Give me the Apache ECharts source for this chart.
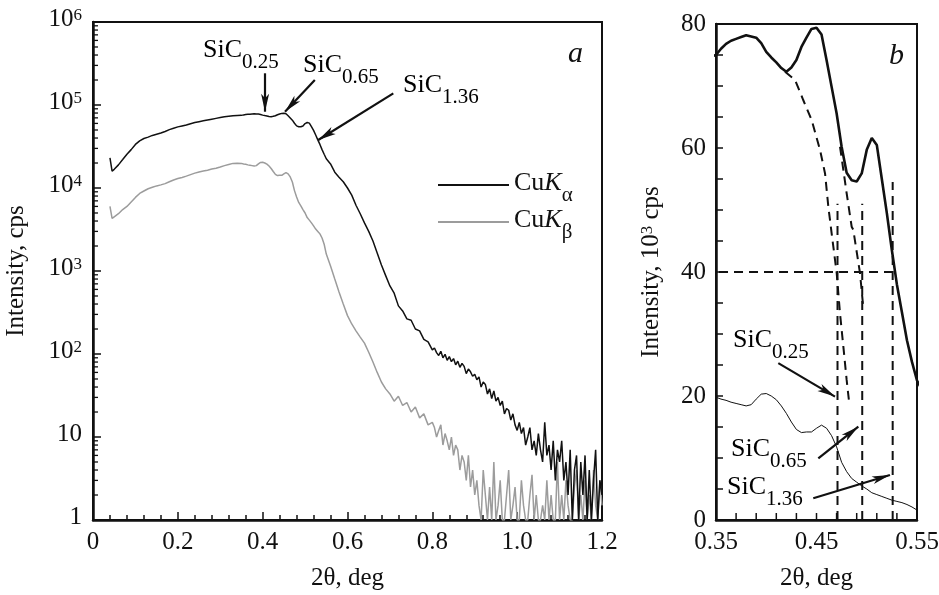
<!DOCTYPE html>
<html><head><meta charset="utf-8">
<script src="https://cdn.jsdelivr.net/npm/echarts@6/dist/echarts.min.js"></script>
<style>html,body{margin:0;padding:0;background:#fff}#c{width:939px;height:595px}</style>
</head><body><div id="c"></div>
<script>
// 2θ (deg) sampling
const xDeg = [
 0.04,0.045,0.05,0.06,0.07,0.08,0.09,0.10,0.11,0.12,0.13,0.14,0.15,0.16,0.17,0.18,0.19,0.20,0.21,0.22,0.23,0.24,0.25,0.26,0.27,0.28,0.29,0.30,0.31,0.32,0.33,0.34,
 0.35,0.355,0.36,0.365,0.37,0.375,0.38,0.385,0.39,0.395,0.40,0.405,0.41,0.415,0.42,0.425,0.43,0.435,0.44,0.445,0.45,0.455,0.46,0.465,0.47,0.475,0.48,0.485,0.49,0.495,0.50,0.505,0.51,0.515,0.52,0.525,0.53,0.535,0.54,0.545,0.55,
 0.56,0.57,0.58,0.59,0.60,0.61,0.62,0.63,0.64,0.65,0.66,0.67,0.68,0.69,0.70,0.71,0.72,0.73,0.74,0.75,0.76,0.77,0.78,0.79,0.80,
 0.805,0.81,0.815,0.82,0.825,0.83,0.835,0.84,0.845,0.85,
 0.855,0.86,0.865,0.87,0.875,0.88,0.885,0.89,0.895,0.90,
 0.905,0.91,0.915,0.92,0.925,0.93,0.935,0.94,0.945,0.95,
 0.955,0.96,0.965,0.97,0.975,0.98,0.985,0.99,0.995,1.00,
 1.005,1.01,1.015,1.02,1.025,1.03,1.035,1.04,1.045,1.05,
 1.055,1.06,1.065,1.07,1.075,1.08,1.085,1.09,1.095,1.10,
 1.105,1.11,1.115,1.12,1.125,1.13,1.135,1.14,1.145,1.15,
 1.155,1.16,1.165,1.17,1.175,1.18,1.185,1.19,1.195,1.20
];
// CuKα intensity, cps
const kAlpha = [
 23000,16000,16800,19000,22000,25500,29000,33500,37000,39500,41000,43000,44500,46000,48000,50500,52500,54500,56000,57500,59500,61500,63000,64500,66000,67500,69000,70500,72000,73000,74000,74500,
 75000,76000,76800,77300,77600,77900,78200,78000,77800,76900,75500,74600,73800,72900,72300,73000,74200,76300,77800,79200,79400,78300,74200,69900,65600,60200,56000,54800,54600,55900,59700,61600,60500,55000,49500,43500,38000,33500,29000,25500,22500,
 19500,15500,13500,11900,10000,8200,6200,4900,3800,3000,2300,1650,1180,880,660,540,380,330,265,255,200,190,150,140,112,
 118,104,96,108,90,99,84,93,81,88,
 74,82,69,77,71,58,66,61,54,57,
 49,53,40,46,43,33,38,29,36,27,
 30,24,27,19,22,21,16,19,14,12,
 15,11,13,8,10,13,7,9,6,11,
 7,5,15,6,8,4,9,3,7,5,
 9,3,5,2,7,1,4,6,1,5,
 2,6,1,4,1,3,7,1,3,2
];
// CuKβ intensity, cps
const kBeta = [
 6000,4300,4500,4900,5500,6000,6800,7700,8600,9200,9800,10200,10600,10900,11300,11900,12500,13000,13400,13900,14500,15100,15600,16000,16400,16900,17300,17900,18600,19200,19800,19900,
 19800,19500,19300,19000,18800,18600,18400,18600,19500,20300,20400,20000,19400,18400,17200,15800,14600,14100,14200,14200,14800,15300,14800,13600,11800,9300,7800,6700,6100,5500,5000,4400,4100,3800,3500,3200,3000,2800,2500,2100,1600,
 1150,800,560,400,290,230,190,160,135,105,80,60,46,38,33,27,31,24,26,20,23,17,19,14,15,
 13,10,12,14,8,11,9,7,10,6,
 8,7,4,6,5,3,6,2.5,4,2,
 3,1.5,1,4,2,1,2.5,1,5,1,
 1.5,3,1,1,2,4,1,1.5,2.5,1,
 1,3,1.5,1,1,2,3.5,1,2,1,
 1,1.5,1,3,1,2,1,1,5,1,
 2,1,3,1.5,1,1,2.5,4,1,2,
 1,3,1,2,1,4,1.5,1,3,1.5
];
// panel b decomposition curves (10^3 cps)
const curveAX = [0.4187,0.4286,0.4369,0.4452,0.4535,0.4585,0.4618,0.4651,0.4701,0.4734,0.4767,0.4800,0.4826];
const curveAY = [72.3,71.0,67.7,64.5,59.7,55.9,50.5,46.2,39.8,33.3,28.0,22.6,18.8];
const curveBX = [0.4734,0.4751,0.4800,0.4850,0.4866,0.4933,0.4966];
const curveBY = [60.2,58.3,52.7,47.3,46.8,39.8,34.2];
const peakLineX = [0.4709,0.4955,0.5258];
const peakLineTop = [51,51,54.5];
const levelY = 40;
const levelX = [0.353,0.531];
// tick values
const logMinorTicks = [2,3,4,5,6,7,8,9,20,30,40,50,60,70,80,90,200,300,400,500,600,700,800,900,2000,3000,4000,5000,6000,7000,8000,9000,20000,30000,40000,50000,60000,70000,80000,90000,200000,300000,400000,500000,600000,700000,800000,900000];
const bTicksX = [0.35,0.37,0.39,0.41,0.43,0.45,0.47,0.49,0.51,0.53,0.55];
const bLabelsX = [0.35,0.45,0.55];
const bLabelsY = [0,20,40,60,80];
// annotation arrows [from, to] in data coordinates
const arrowsA = [
 [[0.406,241000],[0.4055,83000]],
 [[0.523,200000],[0.4526,83000]],
 [[0.708,138000],[0.531,37900]]
];
const arrowsB = [
 [[0.412,25.3],[0.4684,19.9]],
 [[0.4518,9.95],[0.4916,15.05]],
 [[0.4468,3.5],[0.5231,7.26]]
];

const FF = 'Liberation Serif';
const C = '#111';
const pairs = (xs, ys, k) => xs.map((x, i) => [x, ys[i] / k]);
const chart = echarts.init(document.getElementById('c'), null, {renderer: 'canvas'});

const dashed = {color: C, width: 2, type: [9, 6]};
const lineSeries = (name, xi, yi, data, ls, z) => ({
  name, type: 'line', xAxisIndex: xi, yAxisIndex: yi, data, symbol: 'none', showSymbol: false,
  lineStyle: ls, itemStyle: {color: ls.color}, z: z || 2, silent: true, animation: false
});
const arrowMark = (arr) => ({
  silent: true, animation: false, symbol: ['none', 'arrow'], symbolSize: [6, 18],
  label: {show: false}, lineStyle: {color: C, width: 2.2, type: 'solid'},
  emphasis: {disabled: true},
  data: arr.map(a => [{coord: a[0]}, {coord: a[1]}])
});

const series = [];
const sA = lineSeries('CuKα', 0, 0, pairs(xDeg, kAlpha, 1), {color: C, width: 1.5}, 4);
sA.markLine = arrowMark(arrowsA);
series.push(sA);
series.push(lineSeries('CuKβ', 0, 0, pairs(xDeg, kBeta, 1), {color: '#9c9c9c', width: 1.5}, 3));
const sB = lineSeries('CuKα b', 1, 1, pairs(xDeg, kAlpha, 1000), {color: C, width: 2.6}, 4);
sB.markLine = arrowMark(arrowsB);
series.push(sB);
series.push(lineSeries('CuKβ b', 1, 1, pairs(xDeg, kBeta, 1000), {color: C, width: 1}, 3));
series.push(lineSeries('fit A', 1, 1, pairs(curveAX, curveAY, 1), dashed));
series.push(lineSeries('fit B', 1, 1, pairs(curveBX, curveBY, 1), dashed));
peakLineX.forEach((x, i) => series.push(lineSeries('peak ' + i, 1, 1, [[x, 0], [x, peakLineTop[i]]], dashed)));
series.push(lineSeries('level', 1, 1, [[levelX[0], levelY], [levelX[1], levelY]], dashed));

const labelRich = {
  b: {fontFamily: FF, fontSize: 25, color: C, lineHeight: 30, verticalAlign: 'top'},
  p: {fontFamily: FF, fontSize: 17, color: C, lineHeight: 17, verticalAlign: 'top'}
};
const subRich = {
  m: {fontFamily: FF, fontSize: 26, color: C, lineHeight: 30, verticalAlign: 'top'},
  k: {fontFamily: FF, fontSize: 26, color: C, lineHeight: 30, verticalAlign: 'top', fontStyle: 'italic'},
  s: {fontFamily: FF, fontSize: 21, color: C, lineHeight: 21, verticalAlign: 'top', padding: [15, 0, 0, 0]}
};

const baseGraphics = [
  {type: 'text', x: 203, y: 37, silent: true, style: {text: '{m|SiC}{s|0.25}', rich: subRich}},
  {type: 'text', x: 303, y: 52, silent: true, style: {text: '{m|SiC}{s|0.65}', rich: subRich}},
  {type: 'text', x: 403, y: 72, silent: true, style: {text: '{m|SiC}{s|1.36}', rich: subRich}},
  {type: 'text', x: 733, y: 327, silent: true, style: {text: '{m|SiC}{s|0.25}', rich: subRich}},
  {type: 'text', x: 731, y: 436, silent: true, style: {text: '{m|SiC}{s|0.65}', rich: subRich}},
  {type: 'text', x: 727, y: 474, silent: true, style: {text: '{m|SiC}{s|1.36}', rich: subRich}},
  {type: 'text', x: 568, y: 39, silent: true, style: {text: 'a', font: 'italic 30px "Liberation Serif"', fill: C}},
  {type: 'text', x: 889, y: 41, silent: true, style: {text: 'b', font: 'italic 30px "Liberation Serif"', fill: C}}
];

const option = {
  animation: false,
  backgroundColor: '#fff',
  textStyle: {fontFamily: FF},
  grid: [
    {left: 93, top: 22, width: 509, height: 498, show: true, borderColor: C, borderWidth: 2, backgroundColor: 'transparent', outerBoundsMode: 'none', containLabel: false},
    {left: 716, top: 24, width: 201, height: 496, show: true, borderColor: C, borderWidth: 2, backgroundColor: 'transparent', outerBoundsMode: 'none', containLabel: false}
  ],
  legend: {
    data: ['CuKα', 'CuKβ'], orient: 'vertical', left: 433, top: 165, itemWidth: 71, itemHeight: 2, itemGap: 1,
    icon: 'rect', selectedMode: false,
    formatter: n => n === 'CuKα' ? '{m|Cu}{k|K}{s|α}' : '{m|Cu}{k|K}{s|β}',
    textStyle: {fontFamily: FF, rich: subRich}
  },
  xAxis: [
    {type: 'value', gridIndex: 0, min: 0, max: 1.2, interval: 0.2,
     name: '2θ, deg', nameLocation: 'middle', nameGap: 46,
     nameTextStyle: {fontFamily: FF, fontSize: 25, color: C},
     axisLine: {lineStyle: {color: C, width: 2.5}},
     axisTick: {inside: true, length: 8, lineStyle: {color: C, width: 1.5}},
     minorTick: {show: true, splitNumber: 5, length: 5, lineStyle: {color: C, width: 1.5}},
     axisLabel: {fontFamily: FF, fontSize: 25, color: C, margin: 10, formatter: v => v === 0 ? '0' : v.toFixed(1)},
     splitLine: {show: false}, minorSplitLine: {show: false}},
    {type: 'value', gridIndex: 1, min: 0.35, max: 0.55, position: 'bottom',
     name: '2θ, deg', nameLocation: 'middle', nameGap: 46,
     nameTextStyle: {fontFamily: FF, fontSize: 25, color: C},
     axisLine: {lineStyle: {color: C, width: 2.5}},
     axisTick: {show: false},
     axisLabel: {fontFamily: FF, fontSize: 25, color: C, margin: 10, customValues: bLabelsX, formatter: v => v.toFixed(2)},
     splitLine: {show: false}}
  ],
  yAxis: [
    {type: 'log', logBase: 10, gridIndex: 0, min: 1, max: 1000000, splitNumber: 6, position: 'left',
     name: 'Intensity, cps', nameLocation: 'middle', nameGap: 64,
     nameTextStyle: {fontFamily: FF, fontSize: 25, color: C},
     axisLine: {show: true, lineStyle: {color: C, width: 2.5}},
     axisTick: {inside: true, length: 8, lineStyle: {color: C, width: 1.5}},
     axisLabel: {margin: 11, fontFamily: FF, formatter: v => {
        const e = Math.round(Math.log10(v));
        return e === 0 ? '{b|1}' : e === 1 ? '{b|10}' : '{b|10}{p|' + e + '}';
     }, rich: labelRich},
     splitLine: {show: false}},
    {type: 'value', gridIndex: 1, min: 0, max: 80, interval: 5, position: 'left',
     name: '{m|Intensity, 10}{p|3}{m| cps}', nameLocation: 'middle', nameGap: 47,
     nameTextStyle: {fontFamily: FF, rich: {
       m: {fontFamily: FF, fontSize: 25, color: C, lineHeight: 30, verticalAlign: 'top'},
       p: {fontFamily: FF, fontSize: 17, color: C, lineHeight: 17, verticalAlign: 'top'}}},
     axisLine: {show: true, lineStyle: {color: C, width: 2.5}},
     axisTick: {show: true, inside: true, length: 7, lineStyle: {color: C, width: 1.5}},
     axisLabel: {fontFamily: FF, fontSize: 25, color: C, margin: 10, customValues: bLabelsY},
     splitLine: {show: false}}
  ],
  graphic: baseGraphics,
  series
};
chart.setOption(option);

// minor ticks placed through the axes' own scales
const tickGraphics = [];
const xA0 = chart.convertToPixel({xAxisIndex: 0}, 0);
logMinorTicks.forEach(v => {
  const y = chart.convertToPixel({yAxisIndex: 0}, v);
  tickGraphics.push({type: 'line', silent: true, z: 10, shape: {x1: xA0, y1: y, x2: xA0 + 5, y2: y}, style: {stroke: C, lineWidth: 1.3}});
});
const yB0 = chart.convertToPixel({yAxisIndex: 1}, 0);
bTicksX.forEach(t => {
  const x = chart.convertToPixel({xAxisIndex: 1}, t);
  tickGraphics.push({type: 'line', silent: true, z: 10, shape: {x1: x, y1: yB0, x2: x, y2: yB0 - 7}, style: {stroke: C, lineWidth: 1.5}});
});
chart.setOption({graphic: baseGraphics.concat(tickGraphics)});
</script></body></html>
